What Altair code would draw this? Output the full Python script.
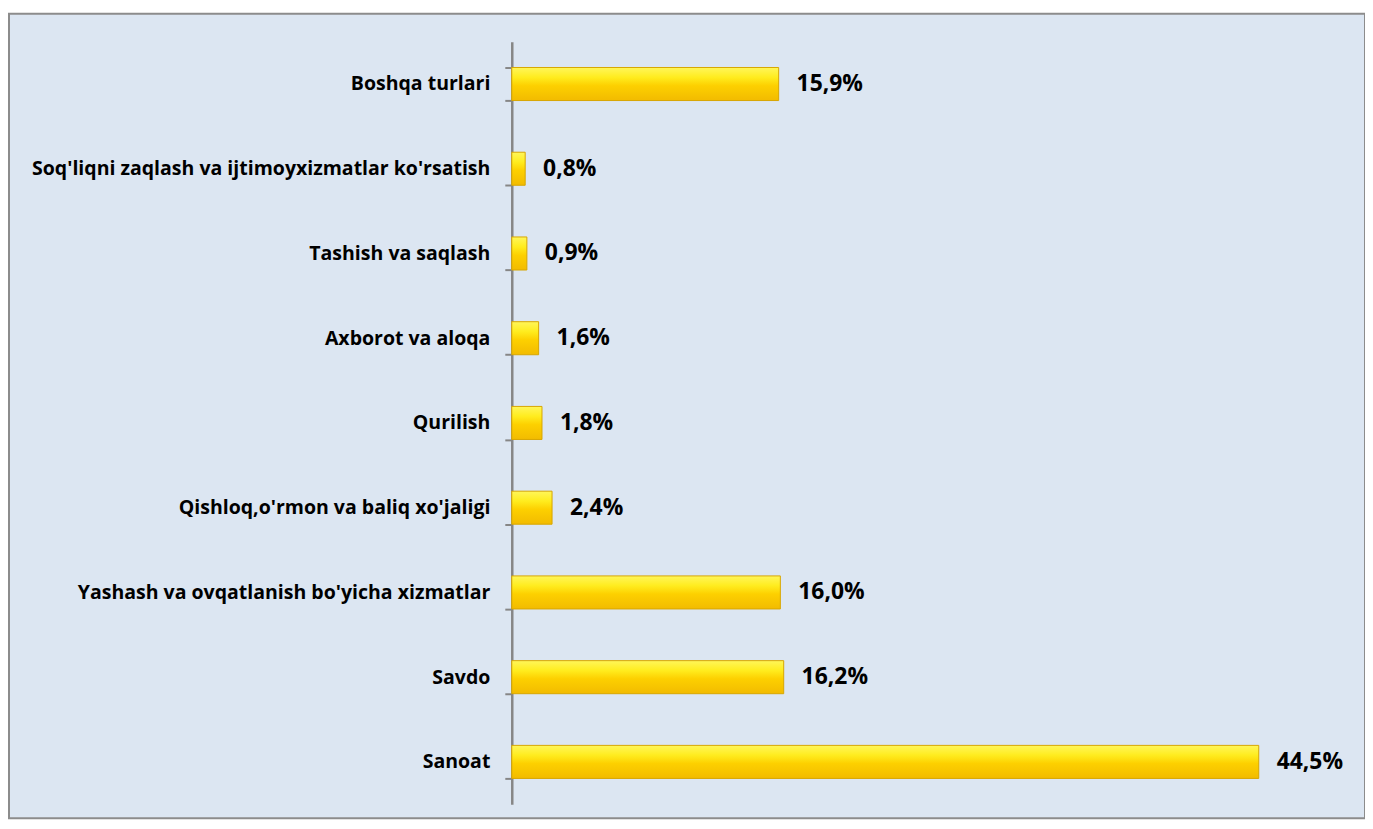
import altair as alt
import pandas as pd

categories = [
    "Boshqa turlari",
    "Soq'liqni zaqlash va ijtimoyxizmatlar ko'rsatish",
    "Tashish va saqlash",
    "Axborot va aloqa",
    "Qurilish",
    "Qishloq,o'rmon va baliq xo'jaligi",
    "Yashash va ovqatlanish bo'yicha xizmatlar",
    "Savdo",
    "Sanoat",
]
values = [15.9, 0.8, 0.9, 1.6, 1.8, 2.4, 16.0, 16.2, 44.5]
value_labels = ["15,9%", "0,8%", "0,9%", "1,6%", "1,8%", "2,4%", "16,0%", "16,2%", "44,5%"]

df = pd.DataFrame({"cat": categories, "val": values, "lbl": value_labels})

FONT = "Open Sans"

y = alt.Y(
    "cat:N",
    sort=categories,
    title=None,
    scale=alt.Scale(range=[28, 794], paddingInner=0.61, paddingOuter=0.305),
    axis=alt.Axis(
        orient="left",
        offset=-505,
        domainColor="#868686",
        domainWidth=2.5,
        tickColor="#868686",
        tickWidth=2,
        tickSize=7,
        tickBand="extent",
        labelPadding=15,
        labelFont=FONT,
        labelFontWeight="bold",
        labelFontSize=19.6,
        labelColor="#000000",
        labelLimit=700,
    ),
)
x = alt.X("val:Q", axis=None, scale=alt.Scale(domain=[0, 50], range=[505, 1348]))

gold = alt.Gradient(
    gradient="linear",
    x1=0, x2=0, y1=0, y2=1,
    stops=[
        alt.GradientStop(color="#fff65a", offset=0),
        alt.GradientStop(color="#ffec1e", offset=0.3),
        alt.GradientStop(color="#fdd000", offset=0.55),
        alt.GradientStop(color="#f2bb00", offset=1),
    ],
)

bars = alt.Chart(df).mark_bar(color=gold, stroke="#d8a600", strokeWidth=1).encode(x=x, y=y)
texts = alt.Chart(df).mark_text(
    align="left", baseline="middle", dx=18, font=FONT, fontWeight="bold", fontSize=23, color="#000000"
).encode(x=x, y=y, text="lbl:N")

chart = (
    alt.layer(bars, texts)
    .properties(
        width=1362,
        height=808,
        padding={"top": 4, "left": 1, "right": 0, "bottom": 0},
        autosize=alt.AutoSizeParams(type="none"),
    )
    .configure(background="#ffffff")
    .configure_view(fill="#dce6f2", stroke="#8c8c8c", strokeWidth=2)
)

chart.save("out.html", embed_options={"renderer": "svg", "actions": False})
